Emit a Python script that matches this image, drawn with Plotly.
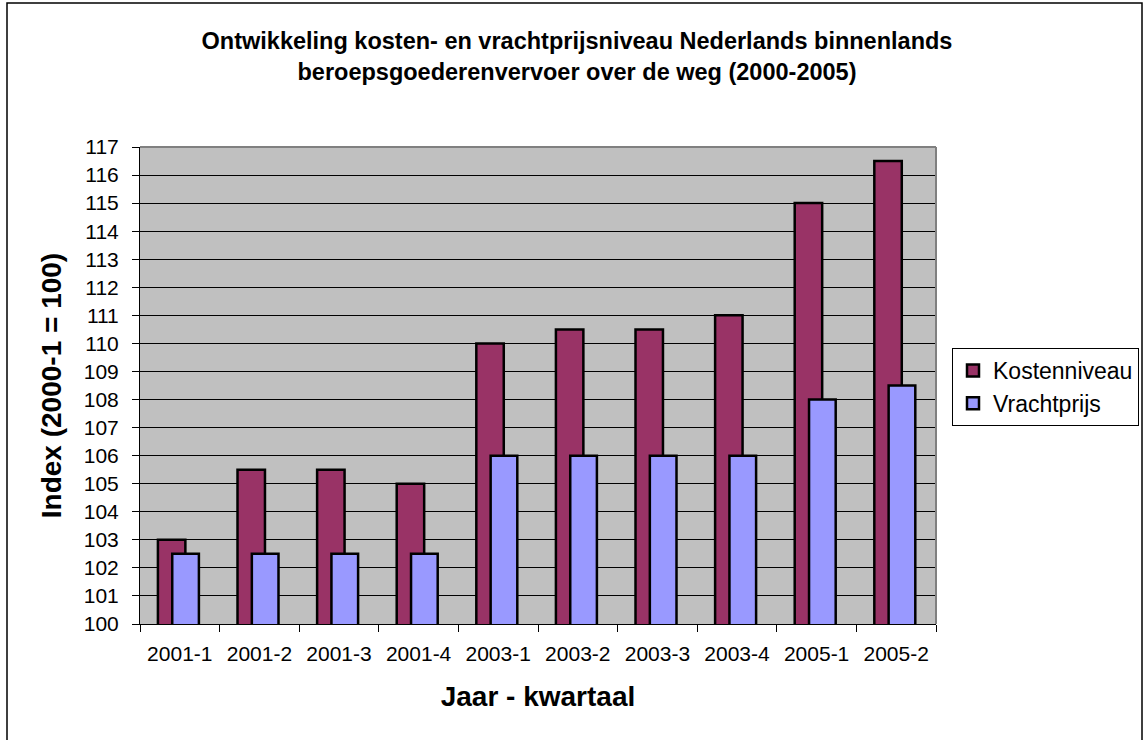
import plotly.graph_objects as go

categories = ["2001-1", "2001-2", "2001-3", "2001-4", "2003-1", "2003-2", "2003-3", "2003-4", "2005-1", "2005-2"]
kostenniveau = [103, 105.5, 105.5, 105, 110, 110.5, 110.5, 111, 115, 116.5]
vrachtprijs = [102.5, 102.5, 102.5, 102.5, 106, 106, 106, 106, 108, 108.5]
y_ticks = list(range(100, 118))

W, H = 1146, 740
L, R, T, B = 140, 210, 147, 116
pw, ph = W - L - R, H - T - B

fig = go.Figure()
fig.add_trace(go.Bar(
    name="Kostenniveau", x=categories, y=kostenniveau,
    width=0.345, offset=-0.275,
    marker=dict(color="#993366", line=dict(color="black", width=2.5)),
))
fig.add_trace(go.Bar(
    name="Vrachtprijs", x=categories, y=vrachtprijs,
    width=0.335, offset=-0.095,
    marker=dict(color="#9999FF", line=dict(color="black", width=2.5)),
))

font_family = "Arial, Liberation Sans, sans-serif"

def px_x(x):
    return (x - L) / pw

def px_y(y):
    return (H - B - y) / ph

fig.update_layout(
    width=W, height=H,
    barmode="overlay",
    margin=dict(l=L, r=R, t=T, b=B, autoexpand=False),
    paper_bgcolor="white",
    plot_bgcolor="#C0C0C0",
    font=dict(family=font_family, color="black"),
    title=dict(
        text="Ontwikkeling kosten- en vrachtprijsniveau Nederlands binnenlands<br>beroepsgoederenvervoer over de weg (2000-2005)",
        font=dict(size=23.5, family=font_family, color="black", weight="bold"),
        x=577 / W, xanchor="center", xref="container",
        y=1 - 49 / H, yanchor="middle", yref="container",
    ),
    xaxis=dict(
        type="category",
        showline=True, linecolor="black", linewidth=1,
        ticks="outside", ticklen=7, tickcolor="black", tickson="boundaries",
        tickfont=dict(size=21),
        ticklabelstandoff=11,
        showgrid=False,
        title=dict(text="Jaar - kwartaal", font=dict(size=28, weight="bold"), standoff=22),
        range=[-0.5, len(categories) - 0.5],
    ),
    yaxis=dict(
        range=[100, 117],
        tickvals=y_ticks,
        showline=True, linecolor="black", linewidth=1,
        ticks="outside", ticklen=7, tickcolor="black",
        tickfont=dict(size=21),
        ticklabelstandoff=9,
        showgrid=True, gridcolor="black", gridwidth=1,
        zeroline=False,
        title=dict(text="Index (2000-1 = 100)", font=dict(size=28, weight="bold"), standoff=13),
    ),
    legend=dict(
        x=px_x(952), xanchor="left",
        y=px_y(348), yanchor="top",
        bgcolor="white", bordercolor="black", borderwidth=1,
        font=dict(size=23),
        itemclick=False,
    ),
    shapes=[
        dict(type="line", xref="paper", yref="paper", x0=0, x1=1, y0=1, y1=1,
             line=dict(color="#808080", width=2)),
        dict(type="line", xref="paper", yref="paper", x0=1, x1=1, y0=0, y1=1,
             line=dict(color="#808080", width=2)),
        dict(type="rect", xref="paper", yref="paper",
             x0=px_x(7), x1=px_x(1142), y0=px_y(741), y1=px_y(3),
             line=dict(color="black", width=1.5), layer="below"),
    ],
)

fig.write_html("out.html", config={"displayModeBar": False},
               post_script="document.body.style.margin='0';")
